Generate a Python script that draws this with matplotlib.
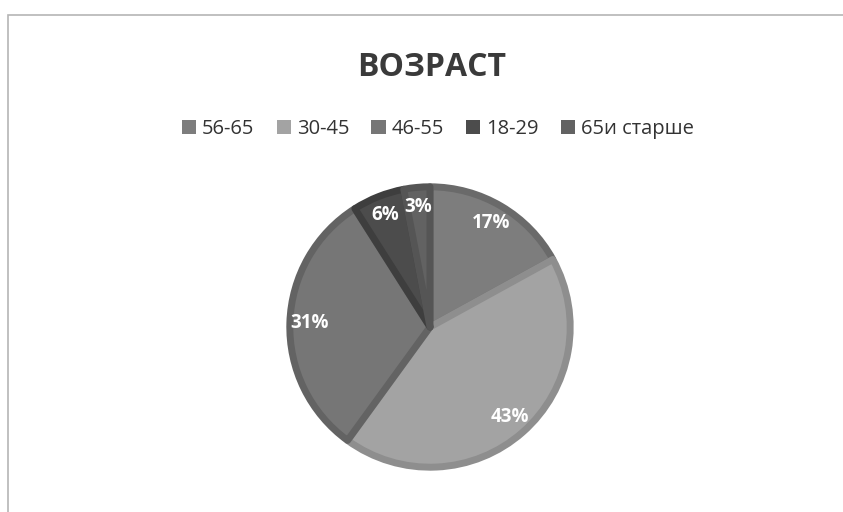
import matplotlib
matplotlib.use("Agg")
import matplotlib.pyplot as plt
from matplotlib.patches import Rectangle

labels = ["56-65", "30-45", "46-55", "18-29", "65и старше"]
values = [17, 43, 31, 6, 3]
fills = ["#7d7d7d", "#a3a3a3", "#767676", "#4c4c4c", "#626262"]
edges = ["#6a6a6a", "#8e8e8e", "#636363", "#3e3e3e", "#555555"]

plt.rcParams['font.family'] = ['Open Sans', 'DejaVu Sans']

fig = plt.figure(figsize=(8.43, 5.12), dpi=100)
fig.patch.set_facecolor("white")

# chart frame
fig.add_artist(Rectangle((8/843, -0.05), 1.0, 1 - 15/512 + 0.05, transform=fig.transFigure,
                         fill=False, edgecolor="#b5b5b5", linewidth=1.2))

ax = fig.add_axes([(430-143)/843, (512-470)/512, 286/843, 286/512])
wedges, texts, autotexts = ax.pie(values, colors=fills, startangle=90, counterclock=False,
                                  autopct=lambda p: f"{p:.0f}%", pctdistance=0.86,
                                  wedgeprops=dict(linewidth=5, edgecolor="white"),
                                  textprops=dict(color="white", fontsize=13.5, fontweight="bold"))
for w, e in zip(wedges, edges):
    w.set_edgecolor(e)
    w.set_joinstyle("round")
ax.set_aspect("equal")
ax.set_xlim(-1.02, 1.02)
ax.set_ylim(-1.02, 1.02)

fig.text(432/843, 1 - 68/512, "ВОЗРАСТ", ha="center", va="center",
         fontsize=23, fontweight="bold", color="#3a3a3a")

handles = [Rectangle((0, 0), 1, 1, facecolor=c, edgecolor="none") for c in fills]
fig.legend(handles, labels, loc="center", bbox_to_anchor=(438/843, 1 - 129/512), ncol=5,
           frameon=False, fontsize=14.5, handlelength=0.7, handleheight=0.7,
           handletextpad=0.3, columnspacing=1.1, labelcolor="#333333")

fig.savefig("out.png", dpi=100, facecolor="white")
